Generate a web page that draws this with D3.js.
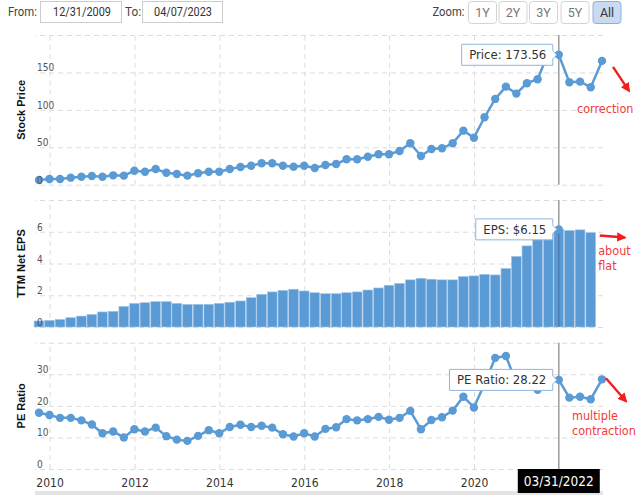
<!DOCTYPE html>
<html><head><meta charset="utf-8">
<script src="https://cdn.jsdelivr.net/npm/d3@7/dist/d3.min.js"></script>
<style>
body{margin:0;background:#fff;}
svg{display:block;}
</style></head>
<body><svg id="c" width="640" height="495"></svg>
<script>
// ---------------- DATA ----------------
const dates = ["2009-12-31","2010-03-31","2010-06-30","2010-09-30","2010-12-31","2011-03-31","2011-06-30","2011-09-30","2011-12-31",
"2012-03-31","2012-06-30","2012-09-30","2012-12-31","2013-03-31","2013-06-30","2013-09-30","2013-12-31",
"2014-03-31","2014-06-30","2014-09-30","2014-12-31","2015-03-31","2015-06-30","2015-09-30","2015-12-31",
"2016-03-31","2016-06-30","2016-09-30","2016-12-31","2017-03-31","2017-06-30","2017-09-30","2017-12-31",
"2018-03-31","2018-06-30","2018-09-30","2018-12-31","2019-03-31","2019-06-30","2019-09-30","2019-12-31",
"2020-03-31","2020-06-30","2020-09-30","2020-12-31","2021-03-31","2021-06-30","2021-09-30","2021-12-31",
"2022-03-31","2022-06-30","2022-09-30","2022-12-31","2023-04-07"];
const price = [6.3,7.6,7.6,9.4,10.7,11.6,10.7,12.5,12.1,18.7,17.4,21.0,16.0,14.3,12.1,15.2,17.4,17.4,21.0,23.7,25.4,28.6,28.6,25.4,24.1,25.4,22.3,26.3,27.7,34.0,34.0,37.4,40.6,40.6,45.0,55.3,38.4,47.7,48.6,55.3,72.2,62.8,90.1,114.6,131.0,121.7,135.6,140.9,176.0,173.56,136.9,137.7,130.2,165.4];
const eps = [0.38,0.42,0.48,0.59,0.69,0.80,0.95,0.99,1.30,1.49,1.53,1.60,1.60,1.49,1.43,1.43,1.43,1.49,1.56,1.64,1.85,2.06,2.21,2.31,2.38,2.27,2.16,2.10,2.10,2.16,2.21,2.33,2.46,2.63,2.75,2.97,3.07,3.01,2.97,2.97,3.18,3.22,3.32,3.28,3.69,4.45,5.11,5.61,6.03,6.15,6.08,6.12,5.95];
const pe = [17.8,17.1,16.2,16.2,15.4,14.1,11.3,11.9,10.0,12.6,11.9,13.1,10.4,9.3,8.9,10.5,12.3,11.3,13.3,14.0,13.3,13.7,13.1,11.0,10.3,11.3,10.3,12.7,13.2,15.8,15.4,15.8,16.5,15.6,16.2,18.4,12.6,15.5,16.4,18.5,22.9,19.5,27.0,35.2,35.8,27.3,26.5,25.1,29.2,28.22,22.6,22.9,22.1,28.4];
const yearTicks = ["2010","2012","2014","2016","2018","2020"];
const priceTicks = [0,50,100,150,200];
const epsTicks = [0,2,4,6,8];
const peTicks = [0,10,20,30,40];
const zoomButtons = ["1Y","2Y","3Y","5Y","All"];
const fromDate = "12/31/2009", toDate = "04/07/2023";
const hoverDate = "2022-03-31", hoverLabel = "03/31/2022";
const tipLabels = ["Price: 173.56","EPS: $6.15","PE Ratio: 28.22"];
const notes = [["correction"],["about","flat"],["multiple","contraction"]];

// ---------------- SETUP ----------------
const parse = d3.timeParse("%Y-%m-%d");
const svg = d3.select("#c");
const BLUE = "#5b9bd5";
const FONT = "'DejaVu Sans Condensed','DejaVu Sans',sans-serif";
const L = 35, R = 603;
const x = d3.scaleTime().domain([parse(dates[0]), parse(dates[dates.length-1])]).range([39, 602]);
const tickDates = yearTicks.map(y => new Date(+y, 3, 1));
const hd = parse(hoverDate);
const hi = dates.indexOf(hoverDate);

const panels = [
  {title:"Stock Price", ticks:priceTicks, top:35, bottom:184.7, values:price, type:"line"},
  {title:"TTM Net EPS", ticks:epsTicks, top:200, bottom:327, values:eps, type:"bar"},
  {title:"PE Ratio", ticks:peTicks, top:342.7, bottom:469, values:pe, type:"line"}
];

svg.append("defs").append("marker").attr("id","ah").attr("viewBox","0 0 10 10")
  .attr("refX",8).attr("refY",5).attr("markerWidth",4).attr("markerHeight",4).attr("orient","auto")
  .append("path").attr("d","M0,0 L10,5 L0,10 z").attr("fill","#f01e1e");

panels.forEach((p, pi) => {
  const y = d3.scaleLinear().domain([p.ticks[0], p.ticks[p.ticks.length-1]]).range([p.bottom, p.top]);
  p.y = y;
  const g = svg.append("g");
  // horizontal gridlines
  const ga = g.append("g").attr("transform",`translate(${R},0)`)
    .call(d3.axisLeft(y).tickValues(p.ticks).tickSize(R-L).tickFormat(""));
  ga.select(".domain").remove();
  ga.selectAll("line").attr("stroke","#dcdcdc").attr("stroke-dasharray","5,4");
  // vertical gridlines
  const gv = g.append("g").attr("transform",`translate(0,${p.bottom})`)
    .call(d3.axisBottom(x).tickValues(tickDates).tickSize(-(p.bottom-p.top)).tickFormat(""));
  gv.select(".domain").remove();
  gv.selectAll("line").attr("stroke","#dcdcdc").attr("stroke-dasharray","5,4");
  // title
  g.append("text").attr("transform",`translate(25,${(p.top+p.bottom)/2}) rotate(-90)`)
    .attr("text-anchor","middle").attr("font-family","'Liberation Sans',Arial,sans-serif")
    .attr("font-weight","bold").attr("font-size",11).attr("fill","#111").text(p.title);
  // crosshair
  g.append("line").attr("x1",x(hd)).attr("x2",x(hd)).attr("y1",p.top).attr("y2",p.bottom)
    .attr("stroke","#a0a0a0").attr("stroke-width",1.6);

  const data = p.values.map((v,i) => ({date: parse(dates[i]), v}));
  if (p.type === "line") {
    g.append("path").datum(data).attr("fill","none").attr("stroke",BLUE).attr("stroke-width",2.5)
      .attr("d", d3.line().x(d=>x(d.date)).y(d=>y(d.v)));
    g.selectAll("circle.pt").data(data).join("circle").attr("class","pt")
      .attr("cx",d=>x(d.date)).attr("cy",d=>y(d.v)).attr("r",4.2).attr("fill",BLUE);
  } else {
    const bw = 9.8;
    g.selectAll("rect.bar").data(data).join("rect").attr("class","bar")
      .attr("x",d=>x(d.date)-bw/2).attr("width",bw)
      .attr("y",d=>y(d.v)).attr("height",d=>p.bottom-y(d.v))
      .attr("fill",BLUE).attr("stroke","#a8c8ea").attr("stroke-width",0.6);
    g.append("line").attr("x1",x(hd)).attr("x2",x(hd)).attr("y1",y(p.values[hi])).attr("y2",p.bottom)
      .attr("stroke","#4a6e93").attr("stroke-width",1.6).attr("opacity",0.6);
    g.append("circle").attr("cx",x(hd)).attr("cy",y(p.values[hi])).attr("r",4.2).attr("fill",BLUE);
  }

  // tick labels (drawn above data)
  const gl = g.append("g").attr("transform",`translate(${R},0)`)
    .call(d3.axisLeft(y).tickValues(p.ticks.slice(0,-1)).tickSize(R-L));
  gl.select(".domain").remove();
  gl.selectAll("line").remove();
  gl.selectAll("text").attr("x", -(R-L)+2).attr("dy", -1.5).attr("text-anchor","start")
    .attr("fill","#555").attr("font-size",10).attr("font-family",FONT);

  // tooltip
  const px = x(hd), py = y(p.values[hi]);
  const tg = g.append("g");
  const path = tg.append("path");
  const tt = tg.append("text").attr("font-family",FONT).attr("font-size",13).attr("fill","#333")
    .attr("dy","0.35em").attr("y",py).text(tipLabels[pi]);
  const w = tt.node().getComputedTextLength();
  const r = px - 6, l = r - (w + 14), h = 21, t = py - h/2;
  tt.attr("x", l + 7.5);
  path.attr("d",`M${l},${t} H${r} V${py-4} L${px-2},${py} L${r},${py+4} V${t+h} H${l} Z`)
    .attr("fill","#fff").attr("stroke","#8fb6de").attr("stroke-width",1);

  // annotations
  const lastI = p.values.length-1;
  const lx = x(parse(dates[lastI])), ly = y(p.values[lastI]);
  const ng = g.append("g").attr("fill","#f23a3a").attr("font-family",FONT).attr("font-size",12.5);
  if (pi === 0) {
    ng.append("line").attr("x1",lx+11).attr("y1",ly+6).attr("x2",lx+27).attr("y2",ly+30);
    ng.append("text").attr("x",lx-25).attr("y",ly+52).text(notes[0][0]);
  } else if (pi === 1) {
    ng.append("line").attr("x1",lx+9).attr("y1",ly+3).attr("x2",lx+34).attr("y2",ly+5);
    ng.append("text").attr("x",lx+7.5).attr("y",ly+22.5).text(notes[1][0]);
    ng.append("text").attr("x",lx+7.5).attr("y",ly+37.5).text(notes[1][1]);
  } else {
    ng.append("line").attr("x1",lx+4).attr("y1",ly-1).attr("x2",lx+24).attr("y2",ly+22);
    ng.append("text").attr("x",lx-30).attr("y",ly+41).text(notes[2][0]);
    ng.append("text").attr("x",lx-30).attr("y",ly+56).text(notes[2][1]);
  }
  ng.selectAll("line").attr("stroke","#f01e1e").attr("stroke-width",2.4).attr("marker-end","url(#ah)");
});

// bottom axis labels
const gb = svg.append("g").attr("transform","translate(0,469)")
  .call(d3.axisBottom(x).tickValues(tickDates).tickSize(0).tickPadding(9).tickFormat(d3.timeFormat("%Y")));
gb.select(".domain").remove();
gb.selectAll("text").attr("font-family",FONT).attr("font-size",12).attr("fill","#333");

// scrollbar strip
svg.append("rect").attr("x",L).attr("y",491).attr("width",R-L).attr("height",4).attr("fill","#e4e4e4");

// hovered date label
const hx = x(hd);
svg.append("rect").attr("x",hx-41).attr("y",469).attr("width",82).attr("height",24).attr("fill","#000");
svg.append("text").attr("x",hx).attr("y",486).attr("text-anchor","middle").attr("fill","#fff")
  .attr("font-family",FONT).attr("font-size",13.5).text(hoverLabel);

// top controls
const TF = "Roboto,sans-serif";
const ctl = svg.append("g").attr("font-family",TF).attr("font-size",13.5);
ctl.append("text").attr("x",8).attr("y",16).attr("fill","#444").attr("textLength",29).attr("lengthAdjust","spacingAndGlyphs").text("From:");
ctl.append("rect").attr("x",40.5).attr("y",1.5).attr("width",81).attr("height",21).attr("fill","#fff").attr("stroke","#ccc");
ctl.append("text").attr("x",53).attr("y",16).attr("fill","#333").attr("textLength",58).attr("lengthAdjust","spacingAndGlyphs").text(fromDate);
ctl.append("text").attr("x",125).attr("y",16).attr("fill","#444").attr("textLength",16).attr("lengthAdjust","spacingAndGlyphs").text("To:");
ctl.append("rect").attr("x",142.5).attr("y",1.5).attr("width",80).attr("height",21).attr("fill","#fff").attr("stroke","#ccc");
ctl.append("text").attr("x",154).attr("y",16).attr("fill","#333").attr("textLength",58).attr("lengthAdjust","spacingAndGlyphs").text(toDate);
ctl.append("text").attr("x",432.5).attr("y",16).attr("fill","#444").attr("textLength",32).attr("lengthAdjust","spacingAndGlyphs").text("Zoom:");
const bx = [468, 498.5, 529, 560.5, 592.5];
zoomButtons.forEach((b,i) => {
  const sel = b === "All";
  ctl.append("rect").attr("x",bx[i]+0.5).attr("y",1.5).attr("width",28).attr("height",22).attr("rx",3)
    .attr("fill", sel ? "#c9dbf3" : "#fff").attr("stroke", sel ? "#8eb0dd" : "#d4d4d4");
  ctl.append("text").attr("x",bx[i]+14.5).attr("y",17).attr("text-anchor","middle").attr("font-size",12.5)
    .attr("fill", sel ? "#333" : "#777").text(b);
});
</script>
</body></html>
